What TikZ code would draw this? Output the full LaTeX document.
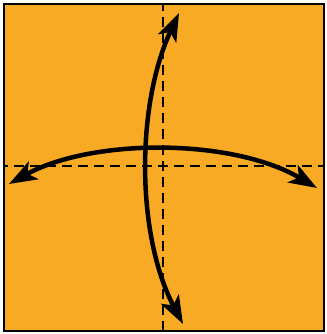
\documentclass[tikz,border=0pt]{standalone}
\usepackage[dvipsnames]{xcolor}
\definecolor{paper}{RGB}{248,170,36}
\usetikzlibrary{arrows.meta}

\begin{document}
\begin{tikzpicture}[x=1pt,y=-1pt,
    fold/.style={line width=2pt, dash pattern=on 10pt off 6pt, dash phase=5pt},
    turn/.style={line width=4.5pt, {Stealth[length=28pt,width=20pt,inset=7pt]}-{Stealth[length=28pt,width=20pt,inset=7pt]}}]
      \useasboundingbox (0,0) rectangle (326,334);
      \filldraw[fill=paper, draw=black, line width=2pt] (4,4) rectangle (324,331);
      
      \coordinate (c) at (163,166);
      \coordinate (top) at (163,4);
      \coordinate (bot) at (163,331);
      \coordinate (lft) at (4,166);
      \coordinate (rgt) at (324,166);
      \foreach \e in {top,bot,lft,rgt}{\draw[fold] (c) -- (\e);}
      
      \coordinate (n) at (179,13);
      \coordinate (s) at (183,324);
      \coordinate (w) at (9,184);
      \coordinate (e) at (317,188);
      \draw[turn] (n) .. controls (136,105) and (136,235) .. (s);
      \draw[turn] (w) .. controls (92,138) and (232,138) .. (e);
    \end{tikzpicture}
\end{document}
